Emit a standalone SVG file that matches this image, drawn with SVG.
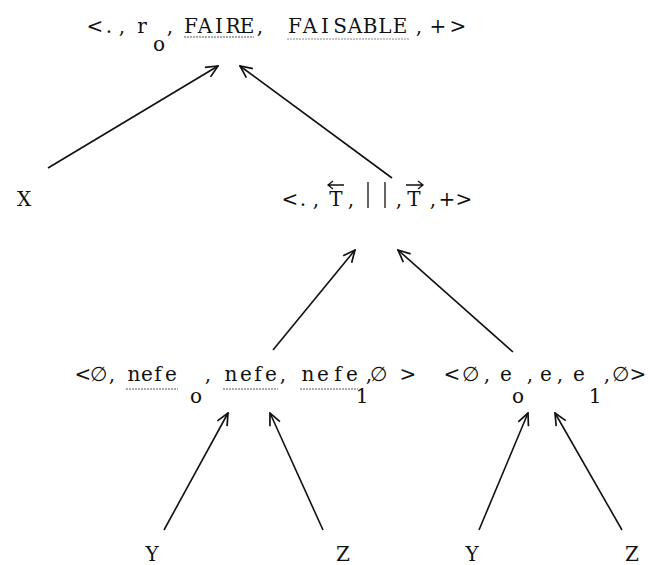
<svg xmlns="http://www.w3.org/2000/svg" width="650" height="565" viewBox="0 0 650 565">
<defs>
<style>
.t{font-family:"DejaVu Serif","Liberation Serif",serif;font-size:20px;fill:#111;text-anchor:middle}
.c{stroke:#111;stroke-width:1.6;fill:none;marker-end:url(#ah)}
.u{stroke:#555;stroke-width:1.2;stroke-dasharray:2 1}
.acc{stroke:#111;stroke-width:1.3;fill:none}
</style>
<marker id="ah" viewBox="0 0 14 14" refX="13" refY="7" markerWidth="14" markerHeight="14" markerUnits="userSpaceOnUse" orient="auto">
<path d="M1,1.5 L13,7 L1,12.5" fill="none" stroke="#111" stroke-width="1.7"/>
</marker>
</defs>
<rect width="650" height="565" fill="#fff"/>
<g id="connectors">
<line class="c" x1="48" y1="168" x2="218" y2="66"/>
<line class="c" x1="392" y1="178" x2="240" y2="66"/>
<line class="c" x1="273" y1="350" x2="355" y2="250"/>
<line class="c" x1="513" y1="352" x2="398" y2="250"/>
<line class="c" x1="164" y1="530" x2="228" y2="413"/>
<line class="c" x1="323" y1="530" x2="270" y2="413"/>
<line class="c" x1="479" y1="530" x2="528" y2="413"/>
<line class="c" x1="622" y1="530" x2="555" y2="413"/>
</g>
<g id="top">
<text class="t" y="33"><tspan x="95 109 122 142">&lt;.,r</tspan><tspan x="159" y="51">o</tspan><tspan x="170" y="33">,</tspan><tspan x="191 205 219 233 247">FAIRE</tspan><tspan x="260">,</tspan><tspan x="295 310 325 340 355 370 385 400">FAISABLE</tspan><tspan x="419 438 458">,+&gt;</tspan></text>
<line class="u" x1="184" y1="37" x2="254" y2="37"/>
<line class="u" x1="287" y1="39" x2="409" y2="39" stroke-opacity="0.7"/>
</g>
<g id="X"><text class="t" x="24" y="206">X</text></g>
<g id="middle">
<text class="t" y="206"><tspan x="290 303 316 336 351">&lt;.,T,</tspan><tspan x="399 414 433 447 464">,T,+&gt;</tspan></text>
<line class="acc" x1="368" y1="182" x2="368" y2="208"/>
<line class="acc" x1="385" y1="182" x2="385" y2="208"/>
<path class="acc" d="M344,185 L328,185 M333,181 L328,185 L333,189"/>
<path class="acc" d="M406,185 L423,185 M418,181 L423,185 L418,189"/>
</g>
<g id="left">
<text class="t" y="381"><tspan x="83 98 112 134 147 158 171">&lt;∅,nefe</tspan><tspan x="196" y="403">o</tspan><tspan x="208 231 246 258 271 283 308 323 338 352" y="381">,nefe,nefe</tspan><tspan x="362" y="403">1</tspan><tspan x="369 378 408" y="381">,∅&gt;</tspan></text>
<line class="u" x1="126" y1="389" x2="178" y2="389"/>
<line class="u" x1="223" y1="389" x2="278" y2="389"/>
<line class="u" x1="300" y1="389" x2="358" y2="389"/>
</g>
<g id="right">
<text class="t" y="381"><tspan x="452 470 487 506">&lt;∅,e</tspan><tspan x="518" y="403">o</tspan><tspan x="530 546 560 579" y="381">,e,e</tspan><tspan x="595" y="403">1</tspan><tspan x="607 620 638" y="381">,∅&gt;</tspan></text>
</g>
<g id="Y1"><text class="t" x="152" y="561">Y</text></g>
<g id="Z1"><text class="t" x="343" y="561">Z</text></g>
<g id="Y2"><text class="t" x="472" y="561">Y</text></g>
<g id="Z2"><text class="t" x="632" y="561">Z</text></g>
</svg>
